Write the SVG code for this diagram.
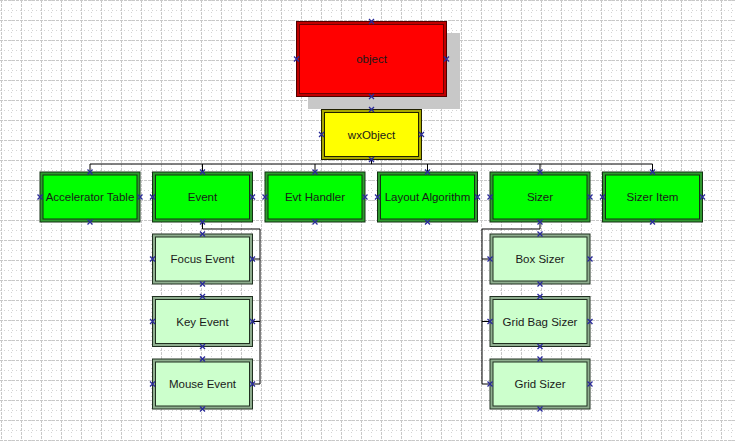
<svg xmlns="http://www.w3.org/2000/svg" width="735" height="441" viewBox="0 0 735 441">
<defs>
<pattern id="grid" patternUnits="userSpaceOnUse" x="0" y="0" width="20" height="20">
<line x1="1.5" y1="0" x2="1.5" y2="20" stroke="#c8c8c8" stroke-width="1" stroke-dasharray="3,1"/>
<line x1="0" y1="0.5" x2="20" y2="0.5" stroke="#c8c8c8" stroke-width="1" stroke-dasharray="3,1"/>
<line x1="11.5" y1="0" x2="11.5" y2="20" stroke="#d4d4d4" stroke-width="1" stroke-dasharray="1,3"/>
<line x1="0" y1="10.5" x2="20" y2="10.5" stroke="#d4d4d4" stroke-width="1" stroke-dasharray="1,3"/>
</pattern>
<g id="xm"><path d="M-2.5,-2.5 L2.5,2.5 M-2.5,2.5 L2.5,-2.5" stroke="#2a2a9a" stroke-width="1.3" fill="none"/></g>
</defs>
<style>
.t{font-family:"Liberation Sans",Arial,sans-serif;font-size:11.5px;fill:#1a1a1a;text-anchor:middle;dominant-baseline:central}
.c{stroke:#000;stroke-width:1;fill:none}
.gO{fill:#2e9a2e;stroke:#123012;stroke-width:1}
.gI{fill:#00ff00;stroke:#123012;stroke-width:1}
.lO{fill:#8fae8f;stroke:#203020;stroke-width:1}
.lI{fill:#ccffcc;stroke:#203020;stroke-width:1}
</style>
<rect width="735" height="441" fill="#fff"/>
<rect width="735" height="441" fill="url(#grid)"/>

<g id="connectors">
<path class="c" d="M371.5,97 V109"/>
<path class="c" d="M371.5,159 V164 M90,172 V164 H652.5 V172 M202.5,164 V172 M315,164 V172 M427.5,164 V172 M540,164 V172"/>
<path class="c" d="M202.5,222 V229 H260 V384 H252.5 M252.5,259 H260 M252.5,321.5 H260"/>
<path class="c" d="M540,222 V229 H482 V384 H490 M490,259 H482 M490,321.5 H482"/>
</g>

<g id="object">
<rect x="308" y="33" width="152" height="76" fill="#c8c8c8"/>
<rect x="296.5" y="21.5" width="150" height="75" fill="#c00000" stroke="#500000"/>
<rect x="299.5" y="24.5" width="144" height="69" fill="#ff0000" stroke="#700000"/>
<text class="t" x="371.5" y="59">object</text>
<use href="#xm" x="371.5" y="21.5"/><use href="#xm" x="371.5" y="96.5"/><use href="#xm" x="296.5" y="59"/><use href="#xm" x="446.5" y="59"/>
</g>

<g id="wxObject">
<rect x="321.5" y="109.5" width="100" height="50" fill="#a8a800" stroke="#202000"/>
<rect x="324.5" y="112.5" width="94" height="44" fill="#ffff00" stroke="#202000"/>
<text class="t" x="371.5" y="134.5">wxObject</text>
<use href="#xm" x="371.5" y="109.5"/><use href="#xm" x="371.5" y="159.5"/><use href="#xm" x="321.5" y="134.5"/><use href="#xm" x="421.5" y="134.5"/>
</g>

<g id="accelerator-table">
<rect class="gO" x="40" y="172" width="100" height="50"/><rect class="gI" x="43" y="175" width="94" height="44"/>
<text class="t" x="90" y="197">Accelerator Table</text>
<use href="#xm" x="90" y="172"/><use href="#xm" x="90" y="222"/><use href="#xm" x="40" y="197"/><use href="#xm" x="140" y="197"/>
</g>
<g id="event">
<rect class="gO" x="152.5" y="172" width="100" height="50"/><rect class="gI" x="155.5" y="175" width="94" height="44"/>
<text class="t" x="202.5" y="197">Event</text>
<use href="#xm" x="202.5" y="172"/><use href="#xm" x="202.5" y="222"/><use href="#xm" x="152.5" y="197"/><use href="#xm" x="252.5" y="197"/>
</g>
<g id="evt-handler">
<rect class="gO" x="265" y="172" width="100" height="50"/><rect class="gI" x="268" y="175" width="94" height="44"/>
<text class="t" x="315" y="197">Evt Handler</text>
<use href="#xm" x="315" y="172"/><use href="#xm" x="315" y="222"/><use href="#xm" x="265" y="197"/><use href="#xm" x="365" y="197"/>
</g>
<g id="layout-algorithm">
<rect class="gO" x="377.5" y="172" width="100" height="50"/><rect class="gI" x="380.5" y="175" width="94" height="44"/>
<text class="t" x="427.5" y="197">Layout Algorithm</text>
<use href="#xm" x="427.5" y="172"/><use href="#xm" x="427.5" y="222"/><use href="#xm" x="377.5" y="197"/><use href="#xm" x="477.5" y="197"/>
</g>
<g id="sizer">
<rect class="gO" x="490" y="172" width="100" height="50"/><rect class="gI" x="493" y="175" width="94" height="44"/>
<text class="t" x="540" y="197">Sizer</text>
<use href="#xm" x="540" y="172"/><use href="#xm" x="540" y="222"/><use href="#xm" x="490" y="197"/><use href="#xm" x="590" y="197"/>
</g>
<g id="sizer-item">
<rect class="gO" x="602.5" y="172" width="100" height="50"/><rect class="gI" x="605.5" y="175" width="94" height="44"/>
<text class="t" x="652.5" y="197">Sizer Item</text>
<use href="#xm" x="652.5" y="172"/><use href="#xm" x="652.5" y="222"/><use href="#xm" x="602.5" y="197"/><use href="#xm" x="702.5" y="197"/>
</g>

<g id="focus-event">
<rect class="lO" x="152.5" y="234" width="100" height="50"/><rect class="lI" x="155.5" y="237" width="94" height="44"/>
<text class="t" x="202.5" y="259">Focus Event</text>
<use href="#xm" x="202.5" y="234"/><use href="#xm" x="202.5" y="284"/><use href="#xm" x="152.5" y="259"/><use href="#xm" x="252.5" y="259"/>
</g>
<g id="key-event">
<rect class="lO" x="152.5" y="296.5" width="100" height="50"/><rect class="lI" x="155.5" y="299.5" width="94" height="44"/>
<text class="t" x="202.5" y="321.5">Key Event</text>
<use href="#xm" x="202.5" y="296.5"/><use href="#xm" x="202.5" y="346.5"/><use href="#xm" x="152.5" y="321.5"/><use href="#xm" x="252.5" y="321.5"/>
</g>
<g id="mouse-event">
<rect class="lO" x="152.5" y="359" width="100" height="50"/><rect class="lI" x="155.5" y="362" width="94" height="44"/>
<text class="t" x="202.5" y="384">Mouse Event</text>
<use href="#xm" x="202.5" y="359"/><use href="#xm" x="202.5" y="409"/><use href="#xm" x="152.5" y="384"/><use href="#xm" x="252.5" y="384"/>
</g>

<g id="box-sizer">
<rect class="lO" x="490" y="234" width="100" height="50"/><rect class="lI" x="493" y="237" width="94" height="44"/>
<text class="t" x="540" y="259">Box Sizer</text>
<use href="#xm" x="540" y="234"/><use href="#xm" x="540" y="284"/><use href="#xm" x="490" y="259"/><use href="#xm" x="590" y="259"/>
</g>
<g id="grid-bag-sizer">
<rect class="lO" x="490" y="296.5" width="100" height="50"/><rect class="lI" x="493" y="299.5" width="94" height="44"/>
<text class="t" x="540" y="321.5">Grid Bag Sizer</text>
<use href="#xm" x="540" y="296.5"/><use href="#xm" x="540" y="346.5"/><use href="#xm" x="490" y="321.5"/><use href="#xm" x="590" y="321.5"/>
</g>
<g id="grid-sizer">
<rect class="lO" x="490" y="359" width="100" height="50"/><rect class="lI" x="493" y="362" width="94" height="44"/>
<text class="t" x="540" y="384">Grid Sizer</text>
<use href="#xm" x="540" y="359"/><use href="#xm" x="540" y="409"/><use href="#xm" x="490" y="384"/><use href="#xm" x="590" y="384"/>
</g>
</svg>
